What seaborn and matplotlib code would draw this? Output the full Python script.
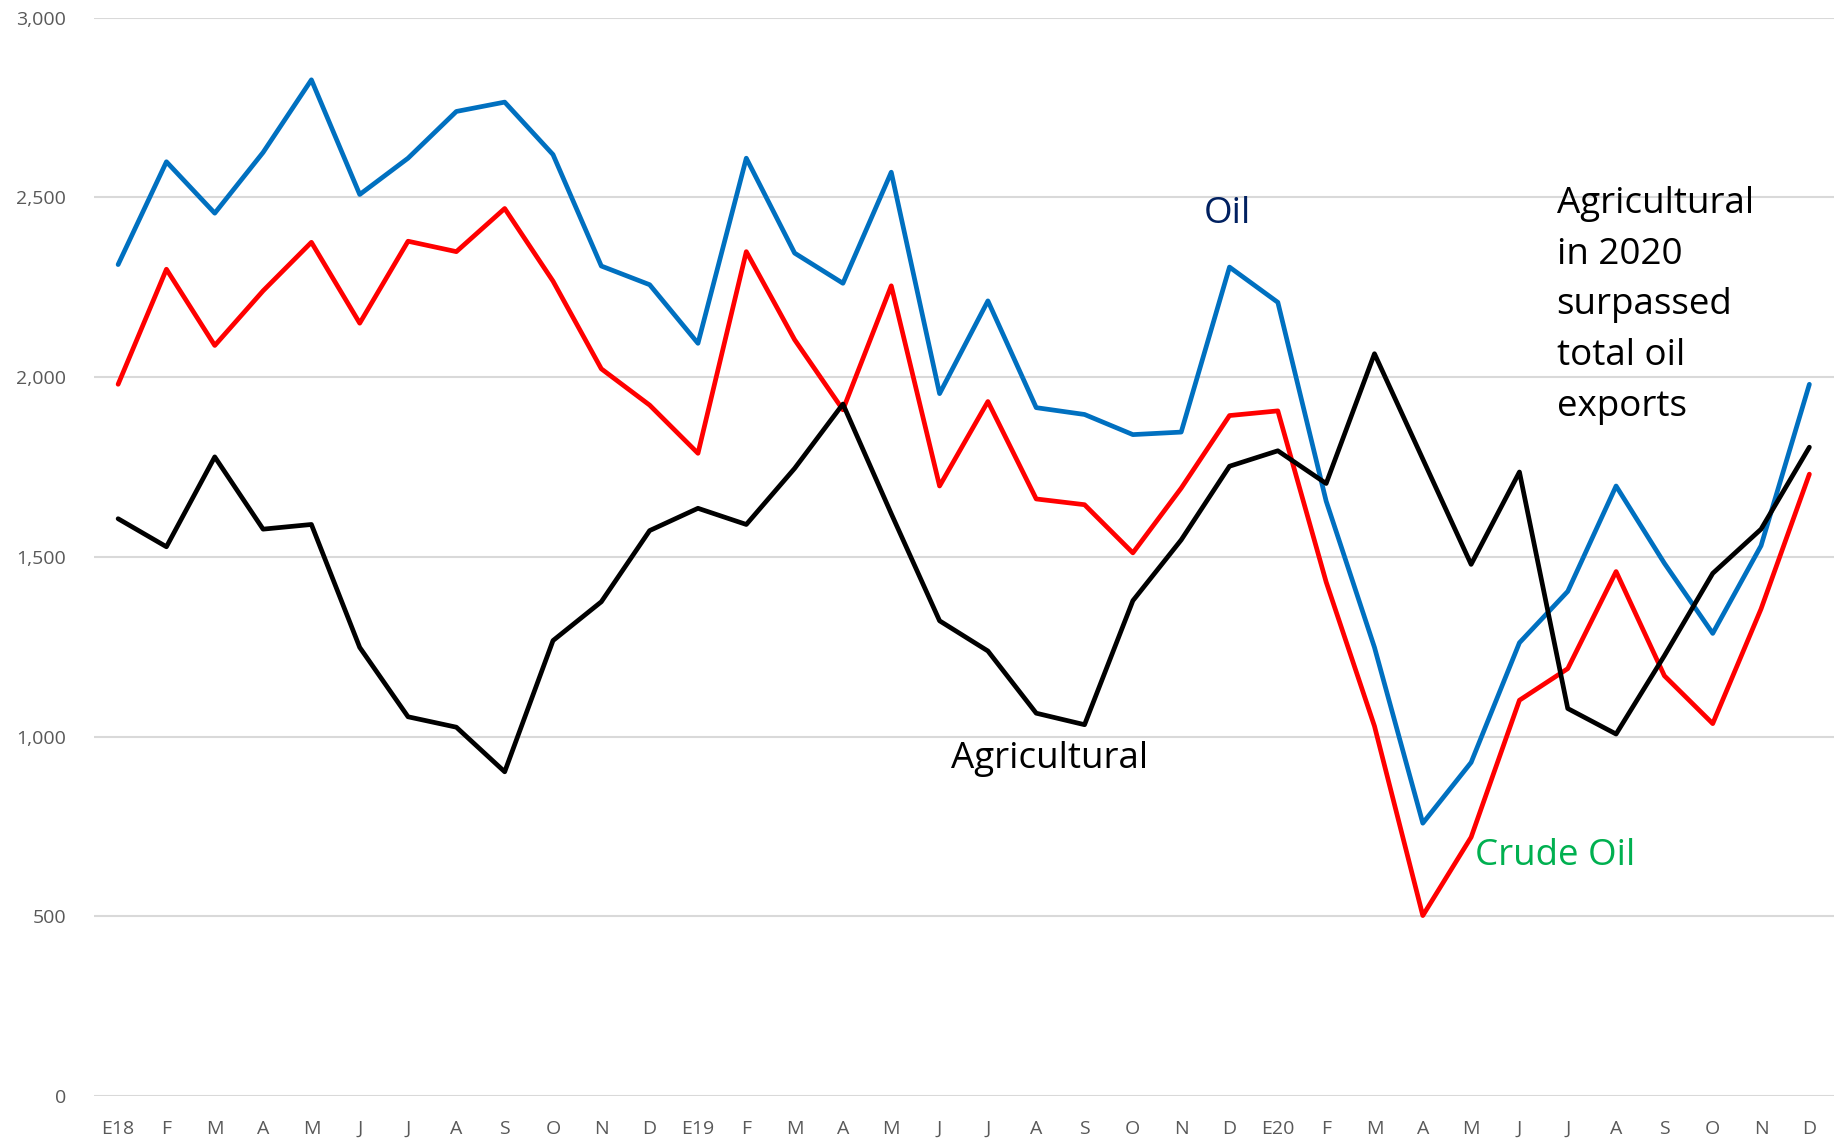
import numpy as np
import pandas as pd
import seaborn as sns
import matplotlib.pyplot as plt

months = ["E18", "F", "M", "A", "M", "J", "J", "A", "S", "O", "N", "D",
          "E19", "F", "M", "A", "M", "J", "J", "A", "S", "O", "N", "D",
          "E20", "F", "M", "A", "M", "J", "J", "A", "S", "O", "N", "D"]

oil = [2313, 2599, 2456, 2625, 2827, 2508, 2609, 2739, 2765, 2619, 2309, 2257,
       2094, 2609, 2345, 2261, 2570, 1954, 2212, 1915, 1896, 1840, 1847, 2306,
       2208, 1655, 1248, 759, 928, 1261, 1404, 1697, 1482, 1287, 1531, 1980]
crude_oil = [1980, 2300, 2088, 2240, 2375, 2150, 2378, 2349, 2469, 2267, 2023, 1922,
             1788, 2349, 2104, 1909, 2254, 1697, 1932, 1661, 1645, 1511, 1691, 1893,
             1906, 1430, 1029, 502, 720, 1101, 1189, 1459, 1169, 1036, 1355, 1730]
agricultural = [1606, 1528, 1778, 1577, 1590, 1248, 1055, 1026, 902, 1267, 1375, 1573,
                1635, 1590, 1746, 1925, 1620, 1322, 1238, 1065, 1033, 1378, 1547, 1752,
                1795, 1704, 2065, 1772, 1479, 1736, 1078, 1007, 1225, 1454, 1577, 1805]

series_names = ["Oil", "Crude Oil", "Agricultural"]
colors = {"Oil": "#0070C0", "Crude Oil": "#FF0000", "Agricultural": "#000000"}

idx = np.arange(len(months))
df = pd.concat([
    pd.DataFrame({"month": idx, "value": oil, "series": "Oil"}),
    pd.DataFrame({"month": idx, "value": crude_oil, "series": "Crude Oil"}),
    pd.DataFrame({"month": idx, "value": agricultural, "series": "Agricultural"}),
])

sns.set_style("white")
plt.rcParams["font.family"] = ["Open Sans", "DejaVu Sans"]

fig = plt.figure(figsize=(18.35, 11.38), dpi=100)
ax = fig.add_axes([0.0512, 0.0369, 0.948, 0.9476])

sns.lineplot(data=df, x="month", y="value", hue="series", hue_order=series_names,
             palette=colors, linewidth=3.4, sort=False, legend=False, ax=ax)

ax.set_xlim(-0.5, len(months) - 0.5)
ax.set_ylim(0, 3000)
ax.set_yticks(np.arange(0, 3001, 500))
ax.set_yticklabels([f"{v:,}" for v in range(0, 3001, 500)])
ax.set_xticks(idx)
ax.set_xticklabels(months)
ax.grid(axis="y", color="#D9D9D9", linewidth=1.5)
ax.set_axisbelow(True)
for s in ax.spines.values():
    s.set_visible(False)
ax.tick_params(axis="both", length=0, labelsize=14, labelcolor="#595959")
ax.tick_params(axis="y", pad=20)
ax.tick_params(axis="x", pad=17)
ax.set_xlabel("")
ax.set_ylabel("")

fs = 26.5
ax.text(22.95, 2453, "Oil", color="#002060", fontsize=fs, ha="center", va="center")
ax.text(19.27, 938, "Agricultural", color="black", fontsize=fs, ha="center", va="center")
ax.text(29.73, 668, "Crude Oil", color="#00B050", fontsize=fs, ha="center", va="center")
ax.text(29.77, 2531, "Agricultural\nin 2020\nsurpassed\ntotal oil\nexports",
        color="black", fontsize=fs, ha="left", va="top", linespacing=1.54)

fig.savefig("out.png", dpi=100)
